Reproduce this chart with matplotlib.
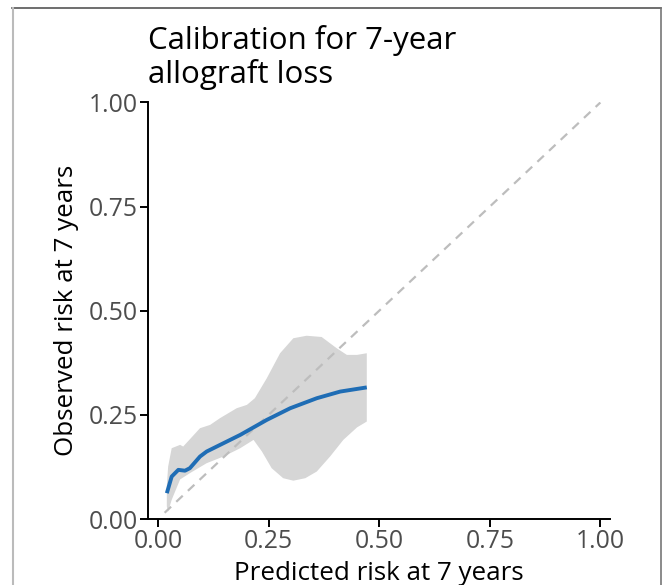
import matplotlib
matplotlib.use('Agg')
import matplotlib.pyplot as plt
from matplotlib.lines import Line2D

plt.rcParams['font.family'] = ['Open Sans', 'DejaVu Sans']

# smoothed calibration curve (predicted, observed)
pred = [0.020, 0.031, 0.046, 0.061, 0.072, 0.095, 0.110, 0.148, 0.186, 0.246, 0.299, 0.359, 0.412, 0.472]
obs = [0.062, 0.102, 0.118, 0.116, 0.122, 0.150, 0.162, 0.182, 0.202, 0.238, 0.266, 0.290, 0.306, 0.316]

# confidence band
band_x_up = [0.020, 0.023, 0.031, 0.050, 0.057, 0.095, 0.118, 0.140, 0.178, 0.201, 0.219, 0.246,
             0.276, 0.306, 0.336, 0.370, 0.404, 0.427, 0.450, 0.472]
band_up = [0.080, 0.126, 0.170, 0.178, 0.174, 0.218, 0.226, 0.242, 0.266, 0.274, 0.290, 0.338,
           0.398, 0.434, 0.440, 0.437, 0.410, 0.394, 0.394, 0.398]
band_x_lo = [0.020, 0.023, 0.031, 0.050, 0.072, 0.110, 0.148, 0.186, 0.216, 0.235, 0.257, 0.283,
             0.306, 0.333, 0.359, 0.389, 0.419, 0.450, 0.472]
band_lo = [0.030, 0.018, 0.046, 0.095, 0.110, 0.134, 0.150, 0.170, 0.190, 0.162, 0.122, 0.098,
           0.092, 0.098, 0.114, 0.150, 0.190, 0.220, 0.234]

ticks = [0.0, 0.25, 0.5, 0.75, 1.0]
tick_labels = ['0.00', '0.25', '0.50', '0.75', '1.00']

fig = plt.figure(figsize=(6.63, 5.85), dpi=100)
ax = fig.add_axes([0.2232, 0.1128, 0.697, 0.712])

poly_x = band_x_up + band_x_lo[::-1]
poly_y = band_up + band_lo[::-1]
ax.fill(poly_x, poly_y, color='#d6d6d6', lw=0, zorder=1)
ax.plot([0.015, 1.0], [0.015, 1.0], color='#bdbdbd', lw=1.6, ls=(0, (4, 3.2)), zorder=2)
ax.plot(pred, obs, color='#1f6db5', lw=2.8, zorder=3, solid_capstyle='butt')

ax.set_xlim(-0.0226, 1.022)
ax.set_ylim(0.0, 1.0)
ax.set_xticks(ticks)
ax.set_xticklabels(tick_labels)
ax.set_yticks(ticks)
ax.set_yticklabels(tick_labels)
for s in ['top', 'right']:
    ax.spines[s].set_visible(False)
for s in ['left', 'bottom']:
    ax.spines[s].set_linewidth(1.4)
ax.tick_params(length=5.5, width=1.4, labelsize=17.8, labelcolor='#4d4d4d', pad=2)
ax.set_xlabel('Predicted risk at 7 years', fontsize=18.7, labelpad=4.5)
ax.set_ylabel('Observed risk at 7 years', fontsize=18.7, labelpad=7)

fig.text(0.2232, 0.957, 'Calibration for 7-year\nallograft loss', fontsize=22.5,
         ha='left', va='top', linespacing=1.12)

# frame of the screenshot
W, H = 663, 585
fig.add_artist(Line2D([12 / W, 661 / W], [1 - 8 / H, 1 - 8 / H], color='#555555', lw=1.2))
fig.add_artist(Line2D([13 / W, 13 / W], [0, 1 - 8 / H], color='#bbbbbb', lw=1.5))
fig.add_artist(Line2D([661 / W, 661 / W], [0, 1 - 8 / H], color='#777777', lw=1.2))

fig.savefig('out.png', dpi=100)
